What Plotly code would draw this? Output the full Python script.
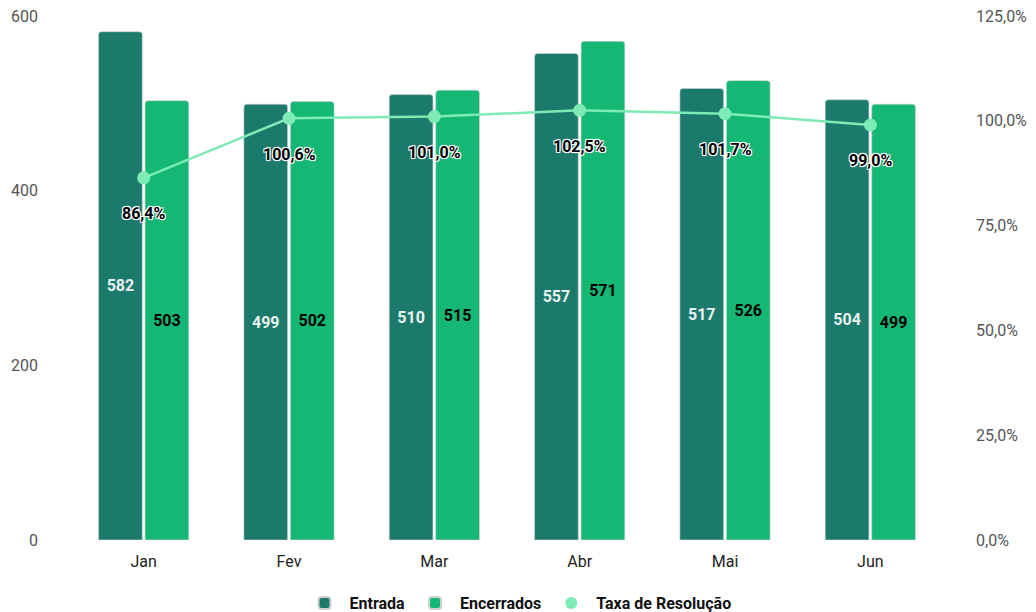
import plotly.graph_objects as go

months = ["Jan", "Fev", "Mar", "Abr", "Mai", "Jun"]
entrada = [582, 499, 510, 557, 517, 504]
encerrados = [503, 502, 515, 571, 526, 499]
taxa = [86.4, 100.6, 101.0, 102.5, 101.7, 99.0]

C_ENT = "#1c7a6d"
C_ENC = "#14b874"
C_TAXA = "#7eeab4"
FONT = "Roboto, Arial, sans-serif"

def pct(v):
    return f"{v:.1f}".replace(".", ",") + "%"

fig = go.Figure()
fig.add_trace(go.Bar(
    x=months, y=entrada, name="Entrada",
    marker=dict(color=C_ENT, line=dict(color="#d0d0d0", width=0.6), cornerradius=3),
    text=[str(v) for v in entrada], textposition="inside", insidetextanchor="middle",
    textfont=dict(family=FONT, size=16, color="#e9f1ef", weight="bold"),
    textangle=0,
))
fig.add_trace(go.Bar(
    x=months, y=encerrados, name="Encerrados",
    marker=dict(color=C_ENC, line=dict(color="#d0d0d0", width=0.6), cornerradius=3),
    text=[str(v) for v in encerrados], textposition="inside", insidetextanchor="middle",
    textfont=dict(family=FONT, size=16, color="#000000", weight="bold"),
    textangle=0,
))
fig.add_trace(go.Scatter(
    x=months, y=[v / 100 for v in taxa], yaxis="y2", mode="lines+markers",
    name="Taxa de Resolução", showlegend=False,
    line=dict(color=C_TAXA, width=2.5),
    marker=dict(color=C_TAXA, size=13),
))
fig.add_trace(go.Scatter(
    x=[None], y=[None], yaxis="y2", mode="markers", name="Taxa de Resolução",
    marker=dict(color=C_TAXA, size=18),
))

for m, v in zip(months, taxa):
    fig.add_annotation(
        x=m, y=v / 100, yref="y2", text=pct(v), showarrow=False, yshift=-36,
        font=dict(family=FONT, size=16, color="#000000", weight="bold",
                  shadow="1px 1px 0 #fff, -1px -1px 0 #fff, 1px -1px 0 #fff, -1px 1px 0 #fff, 0 1px 1px #fff, 0 -1px 1px #fff"),
    )

fig.update_layout(
    width=1036, height=612,
    margin=dict(l=71, r=93, t=16, b=72, autoexpand=False),
    paper_bgcolor="white", plot_bgcolor="white",
    barmode="group", bargap=0.36, bargroupgap=0.06,
    separators=",.",
    font=dict(family=FONT, size=16, color="#222"),
    xaxis=dict(showgrid=False, showline=False, zeroline=False,
               tickfont=dict(family=FONT, size=16, color="#222"), ticklabelstandoff=10),
    yaxis=dict(range=[0, 600], dtick=200, showgrid=False, zeroline=False, showline=False,
               tickfont=dict(family=FONT, size=16, color="#555"), ticklabelstandoff=32),
    yaxis2=dict(range=[0, 1.25], dtick=0.25, tickformat=".1%", overlaying="y", side="right",
                showgrid=False, zeroline=False, showline=False,
                tickfont=dict(family=FONT, size=16, color="#555"), ticklabelstandoff=32),
    legend=dict(orientation="h", x=0.5, xanchor="center", xref="container",
                y=(612 - 603) / 612, yanchor="middle", yref="container",
                font=dict(family=FONT, size=16, color="#111", weight="bold"),
                itemsizing="constant", traceorder="normal", itemwidth=40),
    showlegend=True,
)

fig.write_html("out.html")
